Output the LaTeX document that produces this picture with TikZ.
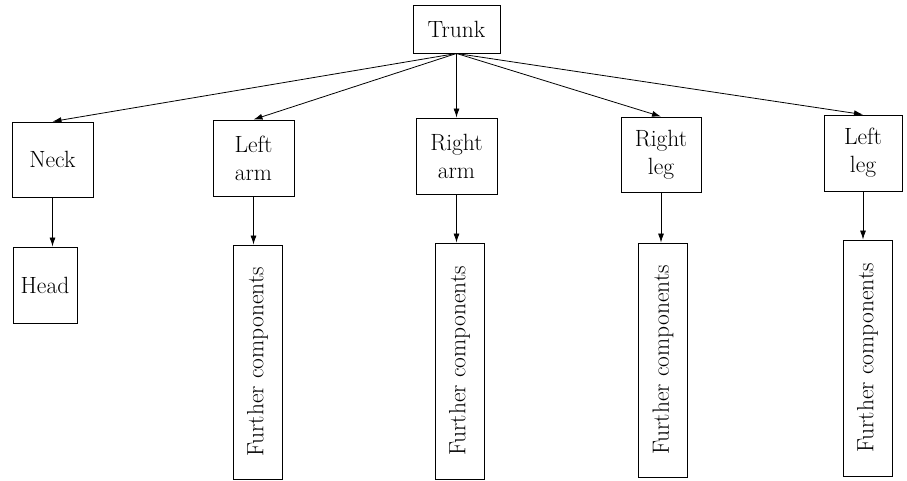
\documentclass[tikz,border=0pt]{standalone}
\usetikzlibrary{arrows.meta}
\begin{document}
\begin{tikzpicture}[x=1pt,y=-1pt,
  part/.style={draw,line width=0.9pt,inner sep=0pt,align=center,
    font=\fontsize{23.5}{28}\selectfont},
  further/.style={part,rotate=90,minimum width=234pt,minimum height=49pt},
  link/.style={line width=0.8pt,-{Latex[length=9pt,width=6pt]}}]
\useasboundingbox (0,0) rectangle (907,480);

\node[part,minimum width=87pt,minimum height=48pt] (trunk) at (456.5,29) {Trunk};

\node[part,minimum width=81pt,minimum height=75pt] (neck)  at (52.5,159.5) {Neck};
\node[part,minimum width=64pt,minimum height=76pt] (head)  at (45,285) {Head};
\node[part,minimum width=81pt,minimum height=76pt] (larm)  at (253.5,158) {Left\\arm};
\node[part,minimum width=81pt,minimum height=76pt] (rarm)  at (456.5,156) {Right\\arm};
\node[part,minimum width=80pt,minimum height=75pt] (rleg)  at (661,154.5) {Right\\leg};
\node[part,minimum width=78pt,minimum height=76pt] (lleg)  at (863,153) {Left\\leg};

\node[further] (flarm) at (257.5,362) {Further components};
\node[further,minimum width=236pt] (frarm) at (459.5,361) {Further components};
\node[further] (frleg) at (663,360) {Further components};
\node[further,minimum width=236pt] (flleg) at (867.5,358) {Further components};

\foreach \n in {neck,larm,rarm,rleg,lleg}
  \draw[link] (trunk.south) -- (\n.north);

\draw[link] (neck.south) -- (neck.south |- head.north);
\draw[link] (larm.south) -- (larm.south |- flarm.east);
\draw[link] (rarm.south) -- (rarm.south |- frarm.east);
\draw[link] (rleg.south) -- (rleg.south |- frleg.east);
\draw[link] (lleg.south) -- (lleg.south |- flleg.east);
\end{tikzpicture}
\end{document}
